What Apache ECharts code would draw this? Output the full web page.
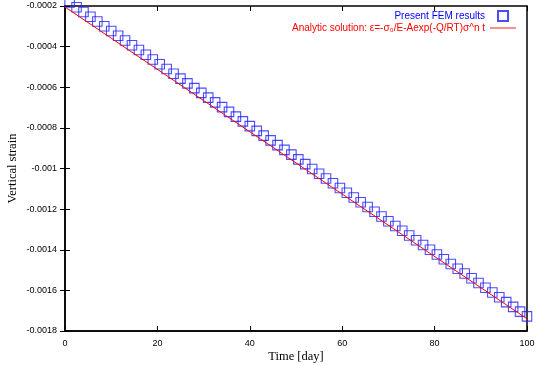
<!DOCTYPE html>
<html>
<head>
<meta charset="utf-8">
<script src="https://cdn.jsdelivr.net/npm/echarts@6/dist/echarts.min.js"></script>
<style>html,body{margin:0;padding:0;background:#fff}#c{width:538px;height:365px}</style>
</head>
<body>
<div id="c"></div>
<script>
// FEM results: time [day]
var femTime = [1,2.5,4,5.5,7,8.5,10,11.5,13,14.5,16,17.5,19,20.5,22,23.5,25,26.5,28,29.5,31,32.5,34,35.5,37,38.5,40,41.5,43,44.5,46,47.5,49,50.5,52,53.5,55,56.5,58,59.5,61,62.5,64,65.5,67,68.5,70,71.5,73,74.5,76,77.5,79,80.5,82,83.5,85,86.5,88,89.5,91,92.5,94,95.5,97,98.5,100];
// FEM results: vertical strain
var femStrain = [-182.8e-6,-206.2e-6,-229.6e-6,-253.0e-6,-276.4e-6,-299.9e-6,-323.3e-6,-346.7e-6,-370.1e-6,-393.5e-6,-416.9e-6,-440.3e-6,-463.7e-6,-487.1e-6,-510.5e-6,-533.9e-6,-557.4e-6,-580.8e-6,-604.2e-6,-627.6e-6,-651.0e-6,-674.4e-6,-697.8e-6,-721.2e-6,-744.6e-6,-768.0e-6,-791.5e-6,-814.9e-6,-838.3e-6,-861.7e-6,-885.1e-6,-908.5e-6,-931.9e-6,-955.3e-6,-978.7e-6,-1002.2e-6,-1025.6e-6,-1049.0e-6,-1072.4e-6,-1095.8e-6,-1119.2e-6,-1142.6e-6,-1166.0e-6,-1189.4e-6,-1212.8e-6,-1236.3e-6,-1259.7e-6,-1283.1e-6,-1306.5e-6,-1329.9e-6,-1353.3e-6,-1376.7e-6,-1400.1e-6,-1423.5e-6,-1446.9e-6,-1470.4e-6,-1493.8e-6,-1517.2e-6,-1540.6e-6,-1564.0e-6,-1587.4e-6,-1610.8e-6,-1634.2e-6,-1657.6e-6,-1681.0e-6,-1704.5e-6,-1727.9e-6];
// Analytic solution
var anaTime = [0, 50, 100];
var anaStrain = [-0.000205, -0.0009725, -0.00174];

var xTicks = [0, 20, 40, 60, 80, 100];
var yTicks = [-0.0018, -0.0016, -0.0014, -0.0012, -0.001, -0.0008, -0.0006, -0.0004, -0.0002];

var femName = 'Present FEM results';
var anaName = 'Analytic solution: ε=-σ₀/E-Aexp(-Q/RT)σ^n t';

function zip(a, b) { return a.map(function (v, i) { return [v, b[i]]; }); }

var chart = echarts.init(document.getElementById('c'), null, {renderer: 'canvas'});
var sans = '"Liberation Sans", Arial, sans-serif';
var serif = '"Liberation Serif", "Times New Roman", serif';
var tickStyle = {show: true, inside: true, length: 5, lineStyle: {color: '#000', width: 1}};
chart.setOption({
  animation: false,
  backgroundColor: '#fff',
  grid: {left: 65, right: 11, top: 6, bottom: 34, containLabel: false, outerBoundsMode: 'none',
    show: true, borderColor: '#000', borderWidth: 1.5, backgroundColor: 'transparent'},
  xAxis: [{
    type: 'value', min: xTicks[0], max: xTicks[xTicks.length - 1], interval: 20,
    name: 'Time [day]', nameLocation: 'middle', nameGap: 19, nameMoveOverlap: false,
    nameTextStyle: {fontFamily: serif, fontSize: 12.5, color: '#000'},
    axisLine: {show: true, lineStyle: {color: '#000', width: 1.5}},
    axisTick: tickStyle,
    axisLabel: {fontFamily: sans, fontSize: 9, color: '#000', margin: 8},
    splitLine: {show: false}
  }, {
    type: 'value', position: 'top', min: xTicks[0], max: xTicks[xTicks.length - 1], interval: 20,
    axisLine: {show: false}, axisTick: tickStyle, axisLabel: {show: false}, splitLine: {show: false}
  }],
  yAxis: [{
    type: 'value', min: yTicks[0], max: yTicks[yTicks.length - 1], interval: 0.0002,
    name: 'Vertical strain', nameLocation: 'middle', nameGap: 46, nameRotate: 90, nameMoveOverlap: false,
    nameTextStyle: {fontFamily: serif, fontSize: 12.5, color: '#000'},
    axisLine: {show: true, lineStyle: {color: '#000', width: 1.5}},
    axisTick: tickStyle,
    axisLabel: {fontFamily: sans, fontSize: 9, color: '#000', margin: 8,
      formatter: function (v) { return String(+v.toFixed(4)); }},
    splitLine: {show: false}
  }, {
    type: 'value', position: 'right', min: yTicks[0], max: yTicks[yTicks.length - 1], interval: 0.0002,
    axisLine: {show: false}, axisTick: tickStyle, axisLabel: {show: false}, splitLine: {show: false}
  }],
  legend: {
    orient: 'vertical', align: 'right', right: 17, top: 5,
    itemWidth: 26, itemHeight: 10, itemGap: 1,
    textStyle: {fontFamily: sans, fontSize: 10},
    data: [
      {name: femName, icon: 'path://M0,0H10V10H0Z', textStyle: {color: '#0000ff'}},
      {name: anaName, icon: 'path://M0,0H26V0.9H0Z', itemStyle: {color: '#ff0000'}, textStyle: {color: '#ff0000'}}
    ]
  },
  series: [{
    name: femName, type: 'scatter', data: zip(femTime, femStrain),
    symbol: 'rect', symbolSize: 9.5, clip: false, z: 2,
    itemStyle: {color: 'rgba(0,0,0,0)', borderColor: '#1f1fff', borderWidth: 1.1}
  }, {
    name: anaName, type: 'line', data: zip(anaTime, anaStrain),
    symbol: 'none', showSymbol: false, z: 3,
    lineStyle: {color: '#ff0000', width: 1},
    itemStyle: {color: '#ff0000'}
  }]
});
</script>
</body>
</html>
